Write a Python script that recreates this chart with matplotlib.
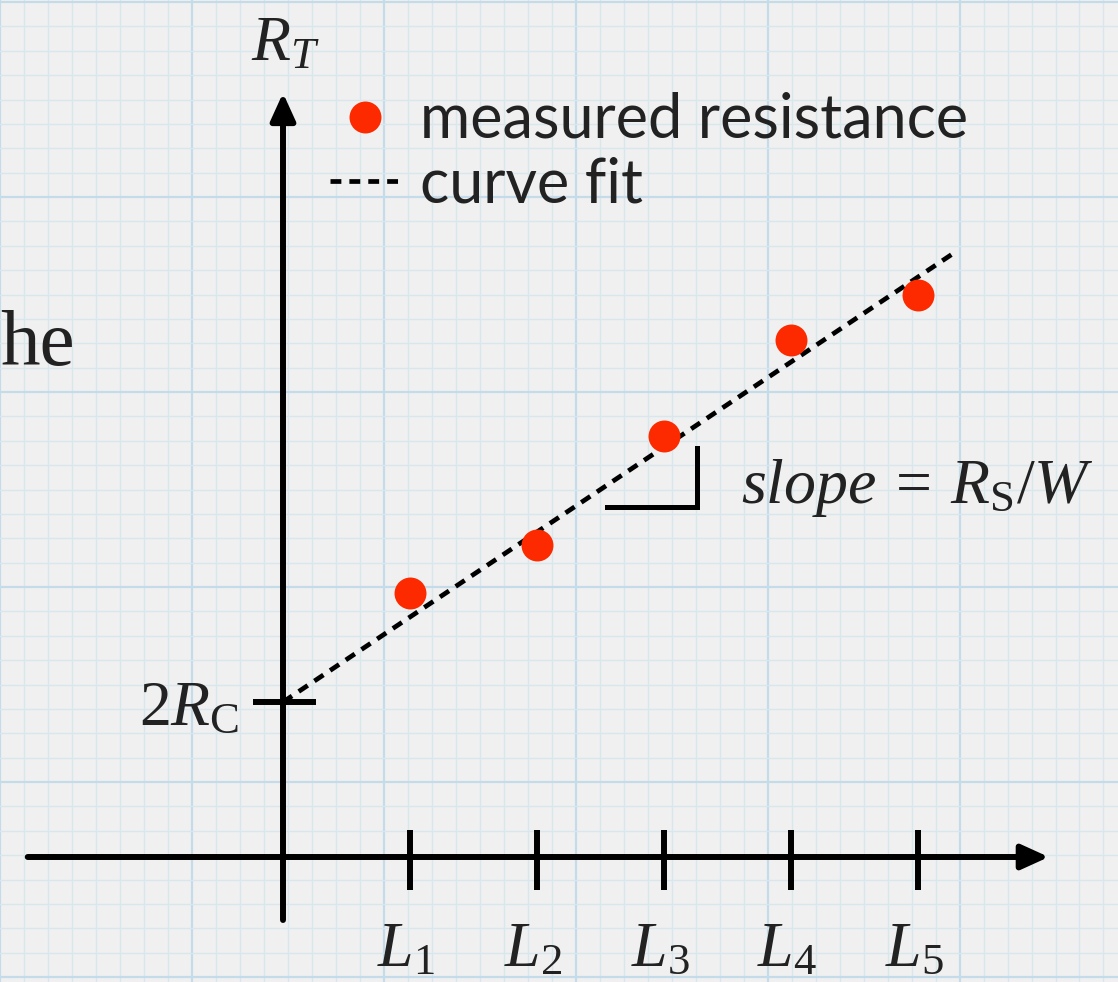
import numpy as np
import matplotlib
matplotlib.use("Agg")
import matplotlib.pyplot as plt

# measured data (L in units of tick spacing, R_T in arbitrary units)
lengths = [1, 2, 3, 4, 5]
resistance = [2.64, 3.12, 4.21, 5.17, 5.62]
length_labels = ["$L_1$", "$L_2$", "$L_3$", "$L_4$", "$L_5$"]

# curve fit
fit_intercept = 1.55
fit_slope = 0.85
fit_range = [0.0, 5.29]

RED = "#fd2a00"
INK = "#222222"

plt.rcParams["mathtext.fontset"] = "custom"
plt.rcParams["mathtext.rm"] = "Liberation Serif"
plt.rcParams["mathtext.it"] = "Liberation Serif:italic"

W, H = 1118, 982
fig = plt.figure(figsize=(W / 100, H / 100), dpi=100)
fig.patch.set_facecolor("#f0f0f0")

# graph paper background, in pixel units
bg = fig.add_axes([0, 0, 1, 1])
bg.set_xlim(0, W)
bg.set_ylim(H, 0)
bg.set_facecolor("#f0f0f0")
step = 195.0
bg.set_xticks(np.arange(177 - step, W, step))
bg.set_xticks(np.arange(177 - step, W, step / 8), minor=True)
bg.set_yticks(np.arange(2, H, step))
bg.set_yticks(np.arange(2, H, step / 8), minor=True)
bg.grid(which="minor", color="#d9e6ee", lw=1.0)
bg.grid(which="major", color="#c4dcea", lw=1.6)
bg.tick_params(which="both", length=0, labelbottom=False, labelleft=False)
for s in bg.spines.values():
    s.set_visible(False)

# main drawing axes: origin at the axes crossing
ax = fig.add_axes([0, 0, 1, 1])
ax.patch.set_alpha(0)
ax.set_xlim(-283 / 127, (W - 283) / 127)
ax.set_ylim((857 - H) / 100, 857 / 100)
ax.set_axis_off()

axis_kw = dict(arrowstyle="-|>,head_length=1.1,head_width=0.5", lw=4.3,
               color="black", mutation_scale=15, shrinkA=0, shrinkB=0)
ax.annotate("", xy=(6.03, 0), xytext=(-2.01, 0), arrowprops=axis_kw)
ax.annotate("", xy=(0, 7.64), xytext=(0, -0.63), arrowprops=axis_kw)

# tick marks on L axis and 2R_C mark
ax.vlines(lengths, -0.33, 0.27, color="black", lw=4.3)
ax.hlines(fit_intercept, -0.24, 0.26, color="black", lw=4.3)

fx = np.array(fit_range)
ax.plot(fx, fit_intercept + fit_slope * fx, color="black", lw=3.4,
        dashes=(2.3, 1.7), label="curve fit", zorder=3)
ax.plot(lengths, resistance, "o", ms=23, color=RED, mec="none",
        label="measured resistance", zorder=4)

# slope bracket
ax.plot([2.55, 3.26, 3.26], [3.50, 3.50, 4.09], color="black", lw=3.6,
        solid_joinstyle="miter")

serif = dict(family="Liberation Serif", color=INK, fontsize=46)
for x, lab in zip(lengths, length_labels):
    ax.text(x - 0.03, -1.09, lab, ha="center", va="baseline", **serif)
ax.text(0.02, 7.97, "$R_T$", ha="center", va="baseline", **serif)
ax.text(-0.34, 1.32, "$2R_\\mathrm{C}$", ha="right", va="baseline", **serif)
ax.text(3.61, 3.54, "$slope\\:=\\:R_\\mathrm{S}/W$", ha="left", va="baseline", **serif)
ax.text(-2.23, 4.92, "he", ha="left", va="baseline",
        family="Liberation Serif", color=INK, fontsize=57)

h, l = ax.get_legend_handles_labels()
leg = ax.legend(h[::-1], l[::-1], loc="upper left",
                bbox_to_anchor=(330 / W, 1 - 92 / H), bbox_transform=fig.transFigure,
                frameon=False, borderpad=0, borderaxespad=0,
                handlelength=1.15, handletextpad=0.32, labelspacing=0.12,
                prop=dict(family="Lato", size=44))
for t in leg.get_texts():
    t.set_color(INK)

fig.savefig("out.png", dpi=100, facecolor=fig.get_facecolor())
